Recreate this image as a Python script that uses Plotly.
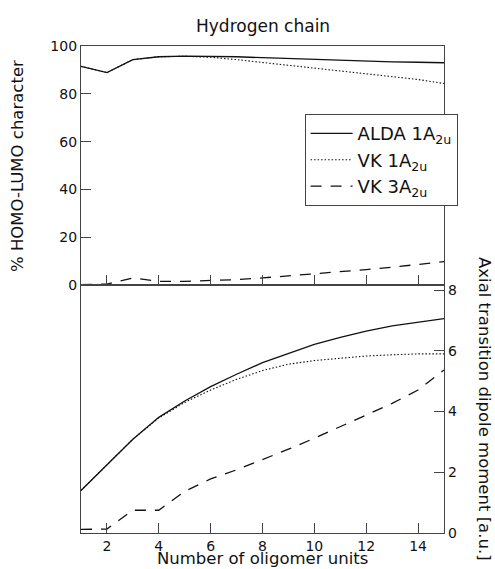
import plotly.graph_objects as go

units = list(range(1, 16))

# % HOMO-LUMO character (top panel, left axis)
homo_alda_1a2u = [91.5, 88.9, 94.3, 95.5, 95.8, 95.8, 95.5, 95.1, 94.7, 94.3, 94.0, 93.7, 93.4, 93.2, 93.0]
homo_vk_1a2u = [91.5, 88.9, 94.3, 95.5, 95.7, 95.3, 94.3, 93.1, 92.0, 90.9, 89.8, 88.6, 87.4, 86.0, 84.3]
homo_vk_3a2u = [0.2, 0.4, 3.0, 1.6, 1.6, 1.8, 2.3, 3.0, 3.8, 4.6, 5.5, 6.5, 7.5, 8.6, 9.8]

# Axial transition dipole moment (bottom panel, right axis)
dip_alda_1a2u = [1.40, 2.25, 3.09, 3.81, 4.35, 4.82, 5.23, 5.61, 5.92, 6.21, 6.44, 6.65, 6.82, 6.95, 7.06]
dip_vk_1a2u = [1.40, 2.25, 3.09, 3.79, 4.30, 4.71, 5.06, 5.35, 5.56, 5.68, 5.76, 5.83, 5.87, 5.90, 5.90]
dip_vk_3a2u = [0.12, 0.13, 0.75, 0.75, 1.37, 1.78, 2.08, 2.41, 2.76, 3.12, 3.51, 3.89, 4.27, 4.71, 5.37]

x_ticks = [2, 4, 6, 8, 10, 12, 14]
homo_ticks = [0, 20, 40, 60, 80, 100]
dip_ticks = [0, 2, 4, 6, 8]

names = ["ALDA 1A<sub>2u</sub>", "VK 1A<sub>2u</sub>", "VK 3A<sub>2u</sub>"]

LINE = "#111111"
FRAME = "#444444"
FONT = "DejaVu Sans"
styles = [dict(color=LINE, width=1.3, dash="solid"),
          dict(color=LINE, width=1.1, dash="1.5px,2px"),
          dict(color=LINE, width=1.3, dash="11px,9px")]

fig = go.Figure()
for name, ys, st in zip(names, [homo_alda_1a2u, homo_vk_1a2u, homo_vk_3a2u], styles):
    fig.add_trace(go.Scatter(x=units, y=ys, mode="lines", name=name, line=st,
                             xaxis="x", yaxis="y", showlegend=True))
for name, ys, st in zip(names, [dip_alda_1a2u, dip_vk_1a2u, dip_vk_3a2u], styles):
    fig.add_trace(go.Scatter(x=units, y=ys, mode="lines", name=name, line=st,
                             xaxis="x2", yaxis="y2", showlegend=False))

split = 0.509
common_x = dict(range=[1, 15], tickvals=x_ticks, ticks="inside", ticklen=10, tickcolor=FRAME,
                tickwidth=1.2, showline=True, linecolor=FRAME, linewidth=1.3, mirror=True,
                showgrid=False, zeroline=False)
fig.update_layout(
    width=495, height=569,
    margin=dict(l=81, r=51, t=46, b=36),
    paper_bgcolor="white", plot_bgcolor="white",
    font=dict(family=FONT, size=14, color="#111111"),
    title=dict(text="Hydrogen chain", x=0.5315, xanchor="center", y=0.955, yanchor="middle",
               font=dict(size=17, family=FONT, color="#111111")),
    xaxis=dict(common_x, domain=[0, 1], anchor="y", showticklabels=False),
    yaxis=dict(domain=[split, 1], range=[0, 100], tickvals=homo_ticks, ticks="inside", ticklen=10,
               tickcolor=FRAME, tickwidth=1.2, showline=True, linecolor=FRAME, linewidth=1.3,
               mirror=True, showgrid=False, zeroline=False, anchor="x"),
    xaxis2=dict(common_x, domain=[0, 1], anchor="y2", showticklabels=True),
    yaxis2=dict(domain=[0, split], range=[0, 8.165], tickvals=dip_ticks, ticks="inside", ticklen=10,
                tickcolor=FRAME, tickwidth=1.2, showline=True, linecolor=FRAME, linewidth=1.3,
                mirror=True, showgrid=False, zeroline=False, side="right", anchor="x2"),
    legend=dict(x=0.616, y=0.860, xanchor="left", yanchor="top", bgcolor="white",
                bordercolor=FRAME, borderwidth=1, font=dict(size=18, family=FONT, color="#111111"),
                tracegroupgap=0, itemwidth=42),
    showlegend=True,
    annotations=[
        dict(text="% HOMO-LUMO character", xref="paper", yref="paper", x=-0.175, y=(split + 1) / 2,
             xanchor="center", yanchor="middle", textangle=-90, showarrow=False,
             font=dict(size=16.5, family=FONT, color="#111111")),
        dict(text="Axial transition dipole moment [a.u.]", xref="paper", yref="paper", x=1.113,
             y=split / 2, xanchor="center", yanchor="middle", textangle=90, showarrow=False,
             font=dict(size=16.5, family=FONT, color="#111111")),
        dict(text="Number of oligomer units", xref="paper", yref="paper", x=0.5, y=-0.052,
             xanchor="center", yanchor="middle", showarrow=False,
             font=dict(size=16.5, family=FONT, color="#111111")),
    ],
)

fig.write_html("out.html")
